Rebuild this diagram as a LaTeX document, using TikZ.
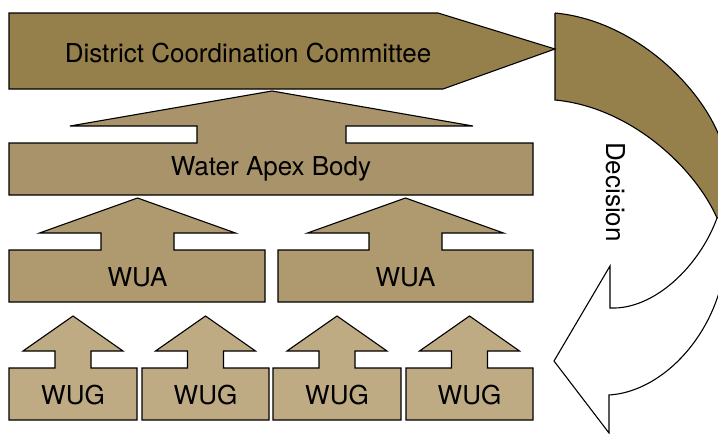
\documentclass[tikz,border=0pt]{standalone}
\usepackage{fontspec}
\setmainfont{TeX Gyre Heros}
\definecolor{dccC}{HTML}{95804C}
\definecolor{wabC}{HTML}{A8936B}
\definecolor{wuaC}{HTML}{AE9A6E}
\definecolor{wugC}{HTML}{BEAB84}
\begin{document}
\begin{tikzpicture}[x=1pt,y=-1pt,line join=miter,
  shp/.style={draw=black,line width=1.1pt},
  lbl/.style={font=\fontsize{26}{30}\selectfont,inner sep=0pt,text=black}]
\useasboundingbox (0,0) rectangle (718,434);
% curved decision arrow
\begin{scope}
\clip (0,0) rectangle (718,434);
\fill[dccC] (555,13) .. controls (630,20) and (695,80) .. (718,133)
  -- (724,150) -- (724,226) -- (718,220)
  .. controls (695,167) and (630,107) .. (555,100) -- cycle;
\draw[shp] (555,13) .. controls (630,20) and (695,80) .. (718,133) -- (724,150);
\draw[shp] (718,220) .. controls (695,167) and (630,107) .. (555,100) -- (555,13);
\draw[shp,fill=white] (717,218) .. controls (700,265) and (655,310) .. (610,308)
  -- (610,266) -- (554,361) -- (609,433) -- (609,395)
  .. controls (660,392) and (712,340) .. (724,272) -- (730,272) -- (730,212) -- cycle;
\end{scope}
\node[lbl,rotate=-90] (dec) at (616,192) {Decision};
% district coordination committee
\draw[shp,fill=dccC] (9,13) -- (438,13) -- (555,49) -- (443,89) -- (9,89) -- cycle;
\node[lbl] (dcc) at (248,53) {District Coordination Committee};
% water apex body
\draw[shp,fill=wabC] (9,143) -- (197,143) -- (197,126) -- (70,126) -- (272,91)
  -- (473,126) -- (346,126) -- (346,143) -- (533,143) -- (533,195) -- (9,195) -- cycle;
\node[lbl] (wab) at (271,169) {Water Apex Body};
% WUA boxes
\foreach \l/\r/\c/\n in {9/265/137.5/a,278/533/405.5/b}{
  \draw[shp,fill=wuaC] (\l,250) -- ({\c-36.5},250) -- ({\c-36.5},233) -- ({\c-98},233)
    -- (\c,198) -- ({\c+98},233) -- ({\c+36.5},233) -- ({\c+36.5},250)
    -- (\r,250) -- (\r,302) -- (\l,302) -- cycle;
  \node[lbl] (wua\n) at (\c,277) {WUA};
}
% WUG boxes
\foreach \l/\r/\c/\n in {9/137/73/a,142/269/205.5/b,273/401/337/c,406/533/469.5/d}{
  \draw[shp,fill=wugC] (\l,368) -- ({\c-18},368) -- ({\c-18},351) -- ({\c-50},351)
    -- (\c,316) -- ({\c+50},351) -- ({\c+18},351) -- ({\c+18},368)
    -- (\r,368) -- (\r,420) -- (\l,420) -- cycle;
  \node[lbl] (wug\n) at ({(\l+\r)/2},395) {WUG};
}
\end{tikzpicture}
\end{document}
